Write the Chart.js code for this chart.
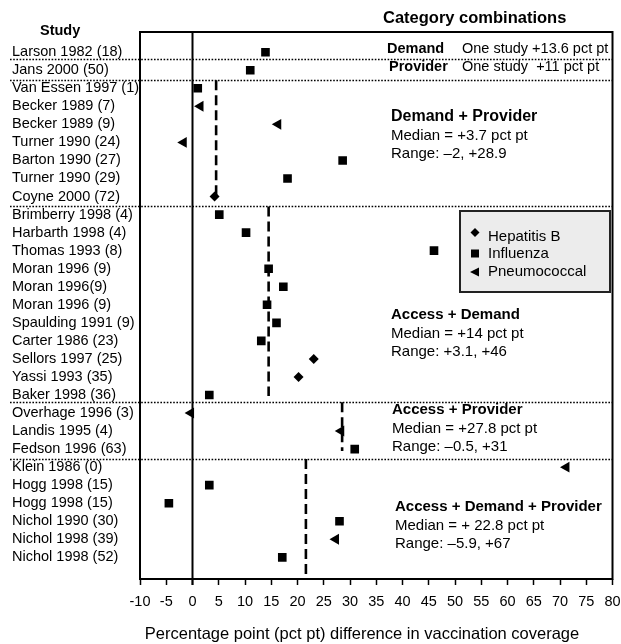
<!DOCTYPE html>
<html><head><meta charset="utf-8">
<script src="https://cdn.jsdelivr.net/npm/chart.js@4/dist/chart.umd.min.js"></script>
<style>html,body{margin:0;padding:0;background:#fff}#wrap{width:621px;height:644px;position:relative}</style>
</head><body><div id="wrap"><canvas id="c" width="621" height="644"></canvas></div>
<script>
// ---------- data ----------
const studies = [
  'Larson 1982 (18)','Jans 2000 (50)','Van Essen 1997 (1)','Becker 1989 (7)','Becker 1989 (9)',
  'Turner 1990 (24)','Barton 1990 (27)','Turner 1990 (29)','Coyne 2000 (72)','Brimberry 1998 (4)',
  'Harbarth 1998 (4)','Thomas 1993 (8)','Moran 1996 (9)','Moran 1996(9)','Moran 1996 (9)',
  'Spaulding 1991 (9)','Carter 1986 (23)','Sellors 1997 (25)','Yassi 1993 (35)','Baker 1998 (36)',
  'Overhage 1996 (3)','Landis 1995 (4)','Fedson 1996 (63)','Klein 1986 (0)','Hogg 1998 (15)',
  'Hogg 1998 (15)','Nichol 1990 (30)','Nichol 1998 (39)','Nichol 1998 (52)'
];
const effects = [
  13.9, 11.0, 1.0, 1.5, 16.3,
  -1.7, 28.6, 18.1, 4.2, 5.1,
  10.2, 46.0, 14.5, 17.3, 14.2,
  16.0, 13.1, 23.1, 20.2, 3.2,
  -0.3, 28.3, 30.9, 71.2, 3.2,
  -4.5, 28.0, 27.3, 17.1
];
const vaccines = [
  'I','I','I','P','P',
  'P','I','I','H','I',
  'I','I','I','I','I',
  'I','I','H','H','I',
  'P','P','I','P','I',
  'I','I','P','I'
];
const vaccineNames = ['Hepatitis B','Influenza','Pneumococcal'];
const vaccineCodes = ['H','I','P'];
const xTickMin = -10, xTickMax = 80, xTickStep = 5;
const separators = [0.4, 1.53, 8.55, 19.4, 22.55];
const medianX = [4.5, 14.5, 28.5, 21.6];
const medianFrom = [1.55, 8.55, 19.4, 22.55];
const medianTo = [8.0, 19.05, 22.1, 29.3];
const groupTitles = ['Demand + Provider','Access + Demand','Access + Provider','Access + Demand + Provider'];
const groupMedians = ['Median = +3.7 pct pt','Median = +14 pct pt','Median = +27.8 pct pt','Median = + 22.8 pct pt'];
const groupRanges = ['Range: \u20132, +28.9','Range: +3.1, +46','Range: \u20130.5, +31','Range: \u20135.9, +67'];
const singleTitles = ['Demand','Provider'];
const singleTexts = ['One study +13.6 pct pt','One study  +11 pct pt'];

// ---------- styles ----------
const FONT = "'Liberation Sans', Arial, sans-serif";
const styleFor = {
  H: {pointStyle:'rectRot', radius:5, rotation:0},
  I: {pointStyle:'rect', radius:6.1, rotation:0},
  P: {pointStyle:'triangle', radius:6.3, rotation:-90}
};

const datasets = [];
vaccineCodes.forEach((code, k) => {
  const pts = [];
  effects.forEach((v, i) => { if (vaccines[i] === code) pts.push({x: v, y: i}); });
  datasets.push({
    label: vaccineNames[k], data: pts, order: 0,
    pointStyle: styleFor[code].pointStyle, pointRadius: styleFor[code].radius,
    pointRotation: styleFor[code].rotation, backgroundColor: '#000', borderColor: '#000',
    borderWidth: 0, pointBorderWidth: 0, showLine: false
  });
});
medianX.forEach((m, g) => {
  datasets.push({
    label: 'median' + g, data: [{x: m, y: medianFrom[g]}, {x: m, y: medianTo[g]}],
    showLine: true, pointRadius: 0, borderColor: '#000', borderWidth: 2.6,
    borderDash: [10, 5], order: 5
  });
});

const decor = {
  id: 'decor',
  beforeDatasetsDraw(chart) {
    const {ctx, chartArea: a, scales: {x, y}} = chart;
    ctx.save();
    ctx.strokeStyle = '#000'; ctx.lineWidth = 1.6; ctx.setLineDash([1.6, 1.6]);
    separators.forEach(s => {
      const py = Math.round(y.getPixelForValue(s)) + 0.5;
      ctx.beginPath(); ctx.moveTo(10, py); ctx.lineTo(a.right, py); ctx.stroke();
    });
    ctx.setLineDash([]);
    const px0 = x.getPixelForValue(0);
    ctx.lineWidth = 2;
    ctx.beginPath(); ctx.moveTo(px0, a.top - 1); ctx.lineTo(px0, a.bottom + 6); ctx.stroke();
    ctx.restore();
  },
  afterDatasetsDraw(chart) {
    const {ctx, chartArea: a, scales: {x, y}} = chart;
    ctx.save();
    ctx.strokeStyle = '#000'; ctx.lineWidth = 2;
    ctx.strokeRect(a.left, a.top, a.right - a.left, a.bottom - a.top);
    ctx.fillStyle = '#000';
    ctx.textBaseline = 'middle'; ctx.textAlign = 'left';
    ctx.font = 'bold 14.5px ' + FONT;
    ctx.fillText('Study', 40, 31);
    ctx.font = 'bold 16.5px ' + FONT;
    ctx.fillText('Category combinations', 383, 18);
    [0, 1].forEach(i => {
      const py = y.getPixelForValue(i) - 3;
      ctx.font = 'bold 14.5px ' + FONT;
      ctx.fillText(singleTitles[i], i === 0 ? 387 : 389, py);
      ctx.font = '14.5px ' + FONT;
      ctx.fillText(singleTexts[i], 462, py);
    });
    const gx = [391, 391, 392, 395];
    const gy = [117, 315, 410, 507];
    const gSize = [16, 15, 15, 15];
    groupTitles.forEach((t, g) => {
      ctx.font = 'bold ' + gSize[g] + 'px ' + FONT;
      ctx.fillText(t, gx[g], gy[g]);
      ctx.font = '15px ' + FONT;
      ctx.fillText(groupMedians[g], gx[g], gy[g] + 18.5);
      ctx.fillText(groupRanges[g], gx[g], gy[g] + 37);
    });
    // legend
    ctx.fillStyle = '#ececec';
    ctx.fillRect(460, 211, 150, 81);
    ctx.strokeStyle = '#222'; ctx.lineWidth = 2;
    ctx.strokeRect(460, 211, 150, 81);
    const ly = [235, 253.5, 272];
    ctx.fillStyle = '#000';
    ctx.beginPath();
    ctx.moveTo(475, ly[0] - 7); ctx.lineTo(479.5, ly[0] - 2.5); ctx.lineTo(475, ly[0] + 2); ctx.lineTo(470.5, ly[0] - 2.5);
    ctx.closePath(); ctx.fill();
    ctx.fillRect(471, ly[1] - 4, 8, 8);
    ctx.beginPath();
    ctx.moveTo(470, ly[2]); ctx.lineTo(479, ly[2] - 4.5); ctx.lineTo(479, ly[2] + 4.5); ctx.closePath(); ctx.fill();
    ctx.font = '15px ' + FONT;
    vaccineNames.forEach((n, k) => ctx.fillText(n, 488, ly[k] + (k === 0 ? 1.5 : 0)));
    ctx.textAlign = 'center';
    ctx.font = '16.5px ' + FONT;
    ctx.fillText('Percentage point (pct pt) difference in vaccination coverage', 362, 634);
    ctx.restore();
  }
};

new Chart(document.getElementById('c'), {
  type: 'scatter',
  data: {datasets},
  options: {
    responsive: false, animation: false, devicePixelRatio: 1,
    layout: {padding: {left: 12, right: 8.5, top: 32, bottom: 0}},
    plugins: {legend: {display: false}, tooltip: {enabled: false}, title: {display: false}},
    scales: {
      x: {
        type: 'linear', min: xTickMin, max: xTickMax,
        ticks: {stepSize: xTickStep, color: '#000', font: {family: FONT, size: 14.5}, padding: 8, maxRotation: 0, autoSkip: false},
        grid: {display: true, drawOnChartArea: false, drawTicks: true, tickLength: 6, color: '#000', tickWidth: 1.5},
        border: {display: false},
        afterFit(s) { s.height = 65; s.paddingLeft = 0; s.paddingRight = 0; }
      },
      y: {
        type: 'linear', reverse: true, min: -1.12, max: 29.2,
        afterBuildTicks(s) { s.ticks = studies.map((_, i) => ({value: i})); },
        ticks: {
          autoSkip: false, crossAlign: 'far', color: '#000', font: {family: FONT, size: 14.5},
          callback: (v) => studies[v]
        },
        grid: {display: false},
        border: {display: false},
        afterFit(s) { s.width = 128; s.paddingTop = 0; s.paddingBottom = 0; }
      }
    }
  },
  plugins: [decor]
});
</script>
</body></html>
